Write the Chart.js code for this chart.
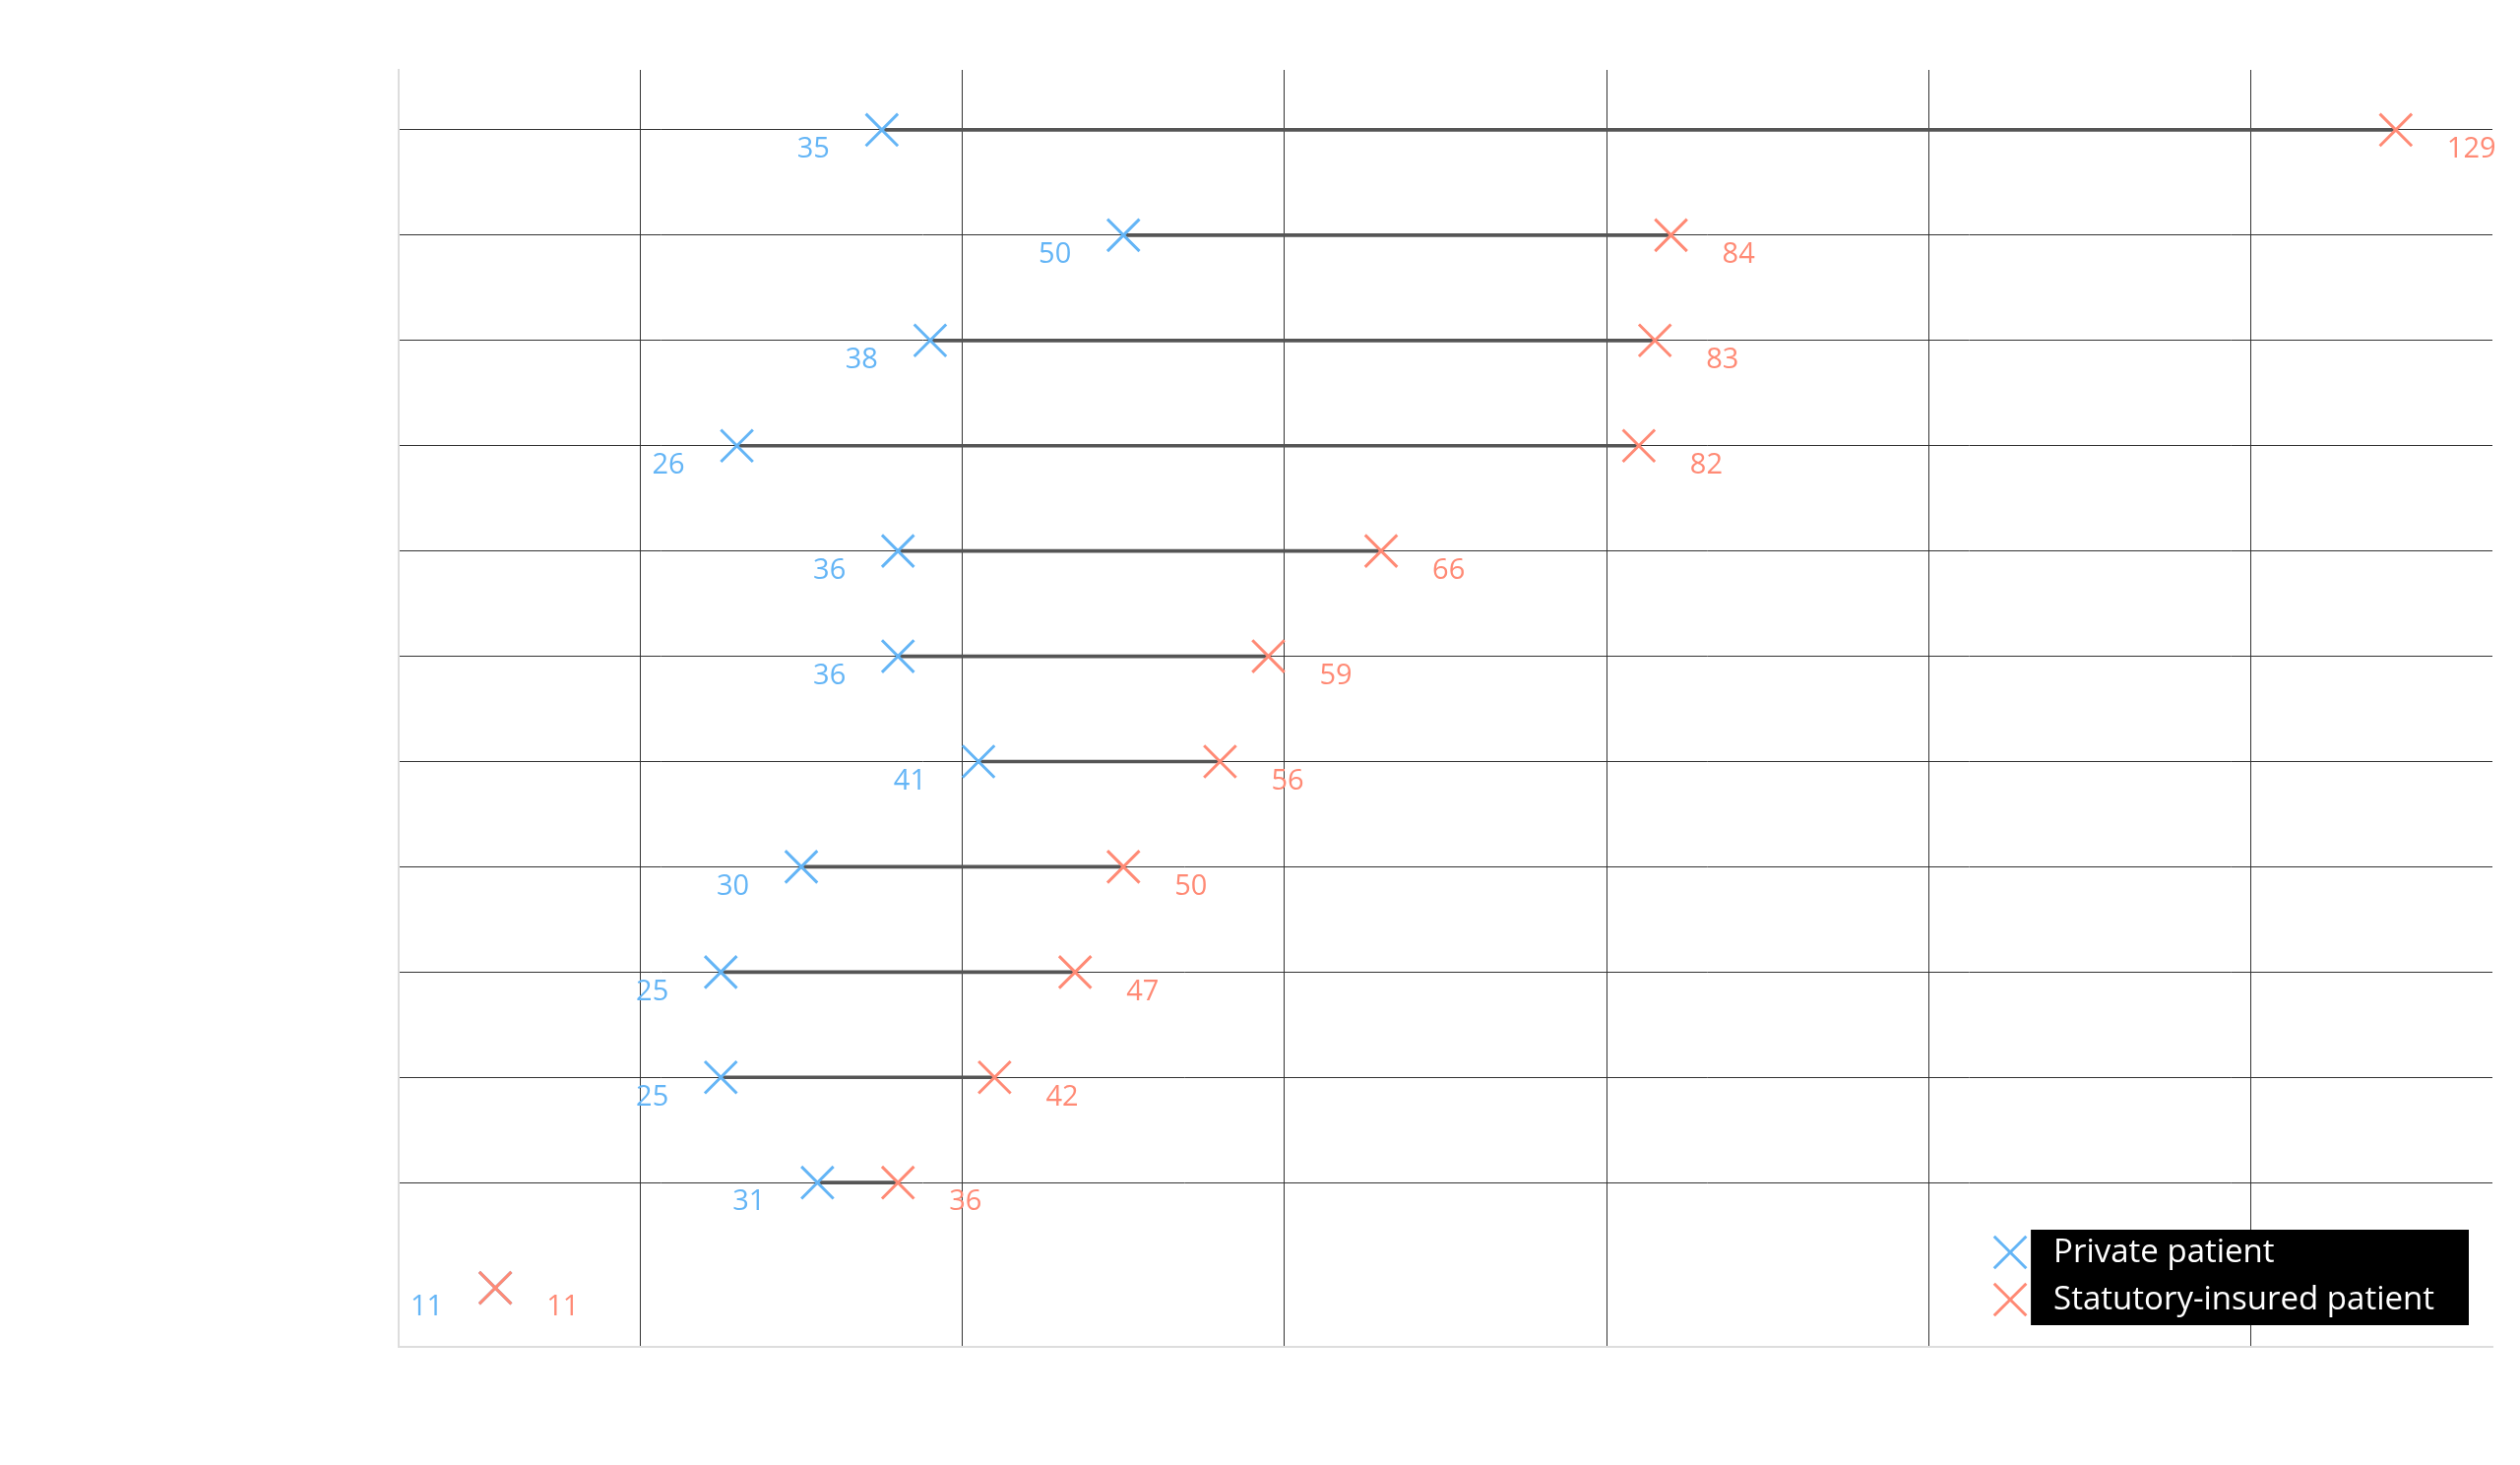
<!DOCTYPE html>
<html>
<head>
<meta charset="utf-8">
<title>Private vs statutory-insured patients</title>
<script src="https://cdn.jsdelivr.net/npm/chart.js@4.4.1/dist/chart.umd.min.js"></script>
<style>
  html, body { margin: 0; padding: 0; background: #fff; }
  .chart-wrap { width: 2560px; height: 1488px; }
</style>
</head>
<body>
<div class="chart-wrap">
  <canvas id="dumbbell-chart" width="2560" height="1488"></canvas>
</div>
<script>
// one entry per row, top to bottom
const rows = [0, 1, 2, 3, 4, 5, 6, 7, 8, 9, 10, 11];
const privateValues = [35, 50, 38, 26, 36, 36, 41, 30, 25, 25, 31, 11];
const statutoryValues = [129, 84, 83, 82, 66, 59, 56, 50, 47, 42, 36, 11];
const seriesNames = ["Private patient", "Statutory-insured patient"];
const xGridTicks = [20, 40, 60, 80, 100, 120];
const yGridRows = [0, 1, 2, 3, 4, 5, 6, 7, 8, 9, 10];

const BLUE = "#64b5f6";
const RED = "#ff8a75";
const FONT = "'Open Sans', 'Noto Sans', sans-serif";

// value labels beside each marker
const valueLabels = {
  id: "valueLabels",
  afterDatasetsDraw(chart) {
    const ctx = chart.ctx;
    ctx.save();
    ctx.font = `29px ${FONT}`;
    ctx.textBaseline = "middle";
    [0, 1].forEach((dsIndex) => {
      const meta = chart.getDatasetMeta(dsIndex);
      const values = dsIndex === 0 ? privateValues : statutoryValues;
      ctx.fillStyle = dsIndex === 0 ? BLUE : RED;
      ctx.textAlign = dsIndex === 0 ? "right" : "left";
      meta.data.forEach((pt, i) => {
        const dx = dsIndex === 0 ? -53 : 52;
        ctx.fillText(String(values[i]), pt.x + dx, pt.y + 20);
      });
    });
    ctx.restore();
  },
};

// legend: crosses outside a black box holding white text
const boxLegend = {
  id: "boxLegend",
  afterDraw(chart) {
    const ctx = chart.ctx;
    const area = chart.chartArea;
    ctx.save();
    ctx.font = `33px ${FONT}`;
    const textW = Math.max(...seriesNames.map((n) => ctx.measureText(n).width));
    const boxH = 97;
    const right = area.right - 24;
    const bottom = area.bottom - 22;
    const left = right - (textW + 58);
    const top = bottom - boxH;
    ctx.fillStyle = "#000";
    ctx.fillRect(left, top, right - left, boxH);
    ctx.textBaseline = "middle";
    ctx.textAlign = "left";
    [BLUE, RED].forEach((color, i) => {
      const cy = top + 23 + i * 48;
      const cx = left - 21;
      const r = 16.3;
      ctx.strokeStyle = color;
      ctx.lineWidth = 3;
      ctx.beginPath();
      ctx.moveTo(cx - r, cy - r);
      ctx.lineTo(cx + r, cy + r);
      ctx.moveTo(cx - r, cy + r);
      ctx.lineTo(cx + r, cy - r);
      ctx.stroke();
      ctx.fillStyle = "#fff";
      ctx.fillText(seriesNames[i], left + 23, cy + 1);
    });
    ctx.restore();
  },
};

const markerStyle = {
  pointStyle: "crossRot",
  pointRadius: 23,
  pointHoverRadius: 23,
  pointBorderWidth: 3,
};

new Chart(document.getElementById("dumbbell-chart"), {
  type: "scatter",
  data: {
    datasets: [
      {
        label: seriesNames[0],
        data: rows.map((r) => ({ x: privateValues[r], y: r })),
        pointBorderColor: BLUE,
        pointBackgroundColor: BLUE,
        order: 1,
        ...markerStyle,
      },
      {
        label: seriesNames[1],
        data: rows.map((r) => ({ x: statutoryValues[r], y: r })),
        pointBorderColor: RED,
        pointBackgroundColor: RED,
        order: 0,
        ...markerStyle,
      },
      {
        type: "bar",
        label: "range",
        indexAxis: "y",
        order: 2,
        data: rows.map((r) => ({ x: [privateValues[r], statutoryValues[r]], y: r })),
        backgroundColor: "#555",
        borderWidth: 0,
        barThickness: 3,
      },
    ],
  },
  options: {
    responsive: false,
    animation: false,
    devicePixelRatio: 1,
    layout: { padding: { left: 405, top: 71, right: 28, bottom: 120 } },
    plugins: {
      legend: { display: false },
      tooltip: { enabled: false },
    },
    scales: {
      x: {
        type: "linear",
        min: 5,
        max: 135,
        offset: false,
        afterBuildTicks: (axis) => {
          axis.ticks = xGridTicks.map((v) => ({ value: v }));
        },
        ticks: { display: false },
        grid: { color: "#333", lineWidth: 1, drawTicks: false, offset: false },
        border: { color: "#ddd", width: 2 },
      },
      y: {
        type: "linear",
        reverse: true,
        min: -0.57,
        max: 11.56,
        offset: false,
        afterBuildTicks: (axis) => {
          axis.ticks = yGridRows.map((v) => ({ value: v }));
        },
        ticks: { display: false },
        grid: { color: "#333", lineWidth: 1, drawTicks: false, offset: false },
        border: { color: "#ddd", width: 2 },
      },
    },
  },
  plugins: [valueLabels, boxLegend],
});
</script>
</body>
</html>
